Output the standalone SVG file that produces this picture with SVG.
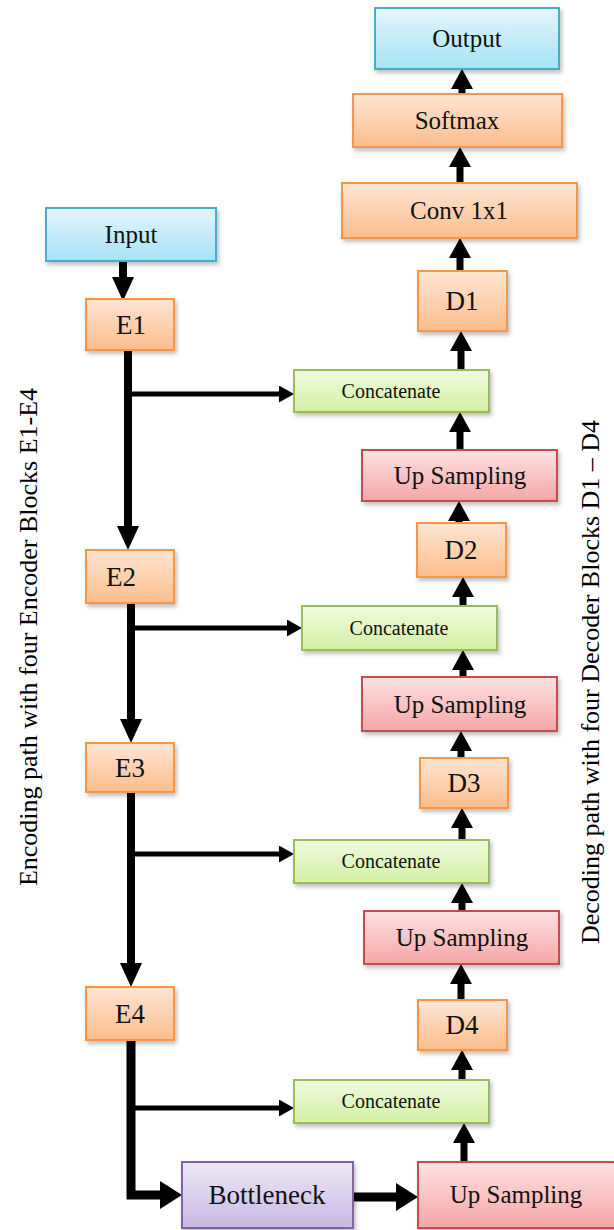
<svg xmlns="http://www.w3.org/2000/svg" width="614" height="1230" viewBox="0 0 614 1230">
<defs>
<linearGradient id="gBlue" x1="0" y1="0" x2="0" y2="1"><stop offset="0" stop-color="#e3f6fc"/><stop offset="1" stop-color="#a6e2f5"/></linearGradient>
<linearGradient id="gOrange" x1="0" y1="0" x2="0" y2="1"><stop offset="0" stop-color="#fde6d4"/><stop offset="1" stop-color="#fbbd8c"/></linearGradient>
<linearGradient id="gGreen" x1="0" y1="0" x2="0" y2="1"><stop offset="0" stop-color="#f0fadf"/><stop offset="1" stop-color="#d2f1a3"/></linearGradient>
<linearGradient id="gRed" x1="0" y1="0" x2="0" y2="1"><stop offset="0" stop-color="#fde2e2"/><stop offset="1" stop-color="#f5a6a6"/></linearGradient>
<linearGradient id="gPurple" x1="0" y1="0" x2="0" y2="1"><stop offset="0" stop-color="#eee8f7"/><stop offset="1" stop-color="#c7b7e3"/></linearGradient>
<filter id="sh" x="-10%" y="-10%" width="130%" height="140%"><feDropShadow dx="2" dy="3" stdDeviation="2" flood-color="#000" flood-opacity="0.25"/></filter>
<marker id="hBig" markerUnits="userSpaceOnUse" markerWidth="24" markerHeight="22" viewBox="0 0 24 22" refX="0" refY="11" orient="auto"><path d="M0,0 L24,11 L0,22 z" fill="#000"/></marker>
<marker id="hUp" markerUnits="userSpaceOnUse" markerWidth="20" markerHeight="22" viewBox="0 0 20 22" refX="0" refY="11" orient="auto"><path d="M0,0 L20,11 L0,22 z" fill="#000"/></marker>
<marker id="hSm" markerUnits="userSpaceOnUse" markerWidth="15" markerHeight="17" viewBox="0 0 15 17" refX="0" refY="8.5" orient="auto"><path d="M0,0 L15,8.5 L0,17 z" fill="#000"/></marker>
<marker id="hBn" markerUnits="userSpaceOnUse" markerWidth="22" markerHeight="28" viewBox="0 0 22 28" refX="0" refY="14" orient="auto"><path d="M0,0 L22,14 L0,28 z" fill="#000"/></marker>
</defs>
<style>
.box{stroke-width:2;filter:url(#sh)}
.blue{fill:url(#gBlue);stroke:#4bacc6}
.orange{fill:url(#gOrange);stroke:#f79646}
.green{fill:url(#gGreen);stroke:#9bbb59}
.red{fill:url(#gRed);stroke:#c0504d}
.purple{fill:url(#gPurple);stroke:#8064a2}
text{font-family:"Liberation Serif","Times New Roman",serif;fill:#111;text-anchor:middle}
.t25{font-size:25px}
.t26{font-size:27px}
.t19{font-size:20px}
.side{font-size:26px;fill:#000}
.enc{fill:none;stroke:#000;stroke-width:8;marker-end:url(#hBig)}
.br{fill:none;stroke:#000;stroke-width:5;marker-end:url(#hSm)}
.up{fill:none;stroke:#000;stroke-width:7;marker-end:url(#hUp)}
.bn{fill:none;stroke:#000;stroke-width:9;marker-end:url(#hBn)}
</style>

<g id="connectors">
<line class="enc" x1="123" y1="261" x2="123" y2="277" marker-end="url(#hBig)"/>
<line class="enc" x1="128" y1="350" x2="128" y2="526"/>
<line class="br" x1="128" y1="394" x2="279" y2="394"/>
<line class="enc" x1="131" y1="603" x2="131" y2="719"/>
<line class="br" x1="131" y1="628" x2="287" y2="628"/>
<line class="enc" x1="131" y1="792" x2="131" y2="963"/>
<line class="br" x1="131" y1="854" x2="279" y2="854"/>
<line class="br" x1="131" y1="1108" x2="279" y2="1108"/>
<path class="bn" d="M131,1040 V1195 H160"/>
<line class="bn" x1="353" y1="1197" x2="396" y2="1197"/>
<line class="up" x1="462" y1="94" x2="462" y2="89"/>
<line class="up" x1="460" y1="183" x2="460" y2="167"/>
<line class="up" x1="460" y1="271" x2="460" y2="258"/>
<line class="up" x1="461" y1="370" x2="461" y2="351"/>
<line class="up" x1="460" y1="450" x2="460" y2="432"/>
<line class="up" x1="459" y1="523" x2="459" y2="521"/>
<line class="up" x1="463" y1="606" x2="463" y2="597"/>
<line class="up" x1="463" y1="677" x2="463" y2="670"/>
<line class="up" x1="461" y1="758" x2="461" y2="751"/>
<line class="up" x1="462" y1="840" x2="462" y2="828"/>
<line class="up" x1="462" y1="911" x2="462" y2="903"/>
<line class="up" x1="461" y1="1000" x2="461" y2="984"/>
<line class="up" x1="462" y1="1080" x2="462" y2="1070"/>
<line class="up" x1="464" y1="1162" x2="464" y2="1143"/>
</g>

<g id="output"><rect class="box blue" x="375" y="8" width="184" height="61"/><text class="t25" x="467" y="47">Output</text></g>
<g id="softmax"><rect class="box orange" x="353" y="94" width="209" height="53"/><text class="t25" x="457" y="129">Softmax</text></g>
<g id="conv"><rect class="box orange" x="342" y="183" width="235" height="55"/><text class="t25" x="459" y="219">Conv 1x1</text></g>
<g id="d1"><rect class="box orange" x="418" y="271" width="89" height="60"/><text class="t26" x="462" y="310">D1</text></g>
<g id="input"><rect class="box blue" x="46" y="208" width="170" height="53"/><text class="t25" x="131" y="243">Input</text></g>
<g id="e1"><rect class="box orange" x="86" y="299" width="88" height="51"/><text class="t26" x="131" y="334">E1</text></g>
<g id="concat1"><rect class="box green" x="294" y="370" width="195" height="42"/><text class="t19" x="391" y="398">Concatenate</text></g>
<g id="up1"><rect class="box red" x="362" y="450" width="195" height="51"/><text class="t25" x="460" y="484">Up Sampling</text></g>
<g id="d2"><rect class="box orange" x="417" y="523" width="89" height="54"/><text class="t26" x="461" y="559">D2</text></g>
<g id="e2"><rect class="box orange" x="86" y="550" width="88" height="53"/><text class="t26" x="121" y="586">E2</text></g>
<g id="concat2"><rect class="box green" x="302" y="606" width="195" height="44"/><text class="t19" x="399" y="635">Concatenate</text></g>
<g id="up2"><rect class="box red" x="362" y="677" width="195" height="54"/><text class="t25" x="460" y="713">Up Sampling</text></g>
<g id="e3"><rect class="box orange" x="86" y="743" width="88" height="49"/><text class="t26" x="130" y="777">E3</text></g>
<g id="d3"><rect class="box orange" x="420" y="758" width="88" height="50"/><text class="t26" x="464" y="792">D3</text></g>
<g id="concat3"><rect class="box green" x="294" y="840" width="195" height="43"/><text class="t19" x="391" y="868">Concatenate</text></g>
<g id="up3"><rect class="box red" x="364" y="911" width="195" height="53"/><text class="t25" x="462" y="946">Up Sampling</text></g>
<g id="e4"><rect class="box orange" x="86" y="987" width="88" height="53"/><text class="t26" x="130" y="1023">E4</text></g>
<g id="d4"><rect class="box orange" x="418" y="1000" width="89" height="50"/><text class="t26" x="462" y="1034">D4</text></g>
<g id="concat4"><rect class="box green" x="294" y="1080" width="195" height="43"/><text class="t19" x="391" y="1108">Concatenate</text></g>
<g id="bottleneck"><rect class="box purple" x="182" y="1162" width="171" height="66"/><text class="t26" x="267" y="1204">Bottleneck</text></g>
<g id="up4"><rect class="box red" x="418" y="1162" width="197" height="66"/><text class="t25" x="516" y="1203">Up Sampling</text></g>

<g id="labels">
<text class="side" transform="translate(37,637) rotate(-90)">Encoding path with four Encoder Blocks E1-E4</text>
<text class="side" transform="translate(599,682) rotate(-90)">Decoding path with four Decoder Blocks D1 – D4</text>
</g>
</svg>
